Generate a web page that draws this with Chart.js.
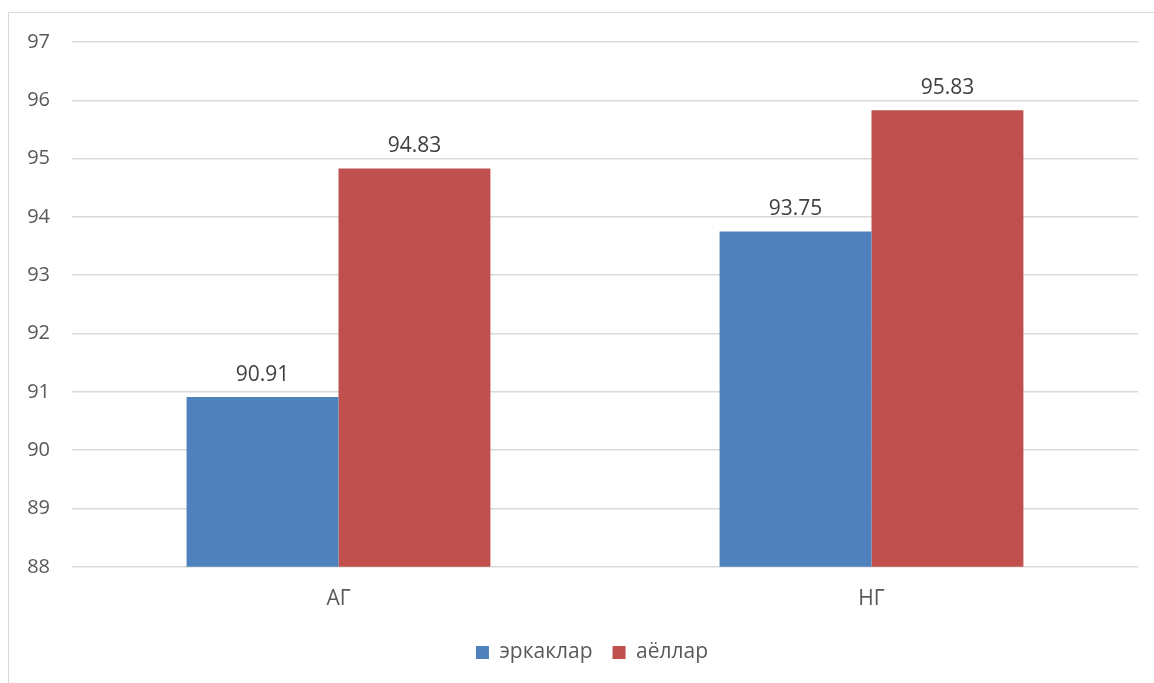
<!DOCTYPE html>
<html><head><meta charset="utf-8">
<script src="https://cdn.jsdelivr.net/npm/chart.js@4"></script>
<style>
html,body{margin:0;padding:0;background:#fff;overflow:hidden;}
#wrap{position:absolute;left:0;top:0;width:1154px;height:683px;}
#frame{position:absolute;left:8px;top:12px;width:1170px;height:700px;border:1px solid #d9d9d9;box-sizing:border-box;}
canvas{position:absolute;left:0;top:0;}
</style></head>
<body>
<div id="wrap"><div id="frame"></div><canvas id="c" width="1154" height="683"></canvas></div>
<script>
const categories = ["АГ", "НГ"];
const seriesNames = ["эркаклар", "аёллар"];
const men = [90.91, 93.75];
const women = [94.83, 95.83];
const yMin = 88, yMax = 97, yStep = 1;

const labelPlugin = {
  id: 'vals',
  afterLayout(chart) {
    const lg = chart.legend;
    if (lg) { lg.top -= 10; lg.bottom -= 10; lg.left += 23; lg.right += 23; }
  },
  afterDatasetsDraw(chart) {
    const ctx = chart.ctx;
    ctx.save();
    ctx.font = '21px "Open Sans", sans-serif';
    ctx.fillStyle = '#404040';
    ctx.textAlign = 'center';
    ctx.textBaseline = 'bottom';
    chart.data.datasets.forEach((ds, i) => {
      chart.getDatasetMeta(i).data.forEach((bar, j) => {
        ctx.fillText(ds.data[j].toFixed(2), bar.x, bar.y - 12);
      });
    });
    ctx.restore();
  }
};

new Chart(document.getElementById('c'), {
  type: 'bar',
  data: {
    labels: categories,
    datasets: [
      {label: seriesNames[0], data: men, backgroundColor: '#4F81BD', categoryPercentage: 0.57, barPercentage: 1},
      {label: seriesNames[1], data: women, backgroundColor: '#C0504D', categoryPercentage: 0.57, barPercentage: 1}
    ]
  },
  options: {
    responsive: false,
    animation: false,
    layout: {padding: {left: 0, right: 16, top: 42, bottom: 0}},
    plugins: {
      legend: {
        position: 'bottom',
        labels: {
          font: {family: '"Open Sans", sans-serif', size: 21},
          color: '#595959',
          boxWidth: 13, boxHeight: 13, padding: 20
        }
      },
      tooltip: {enabled: false}
    },
    scales: {
      x: {
        grid: {display: false, drawTicks: false},
        border: {display: false},
        ticks: {font: {family: '"Open Sans", sans-serif', size: 21}, color: '#595959', padding: 20}
      },
      y: {
        min: yMin, max: yMax,
        afterFit(s) { s.width = 72; },
        grid: {color: '#d9d9d9', lineWidth: 1.5, drawTicks: false},
        border: {display: false},
        ticks: {stepSize: yStep, font: {family: '"Open Sans", sans-serif', size: 20}, color: '#595959', padding: 22}
      }
    }
  },
  plugins: [labelPlugin]
});
</script>
</body></html>
